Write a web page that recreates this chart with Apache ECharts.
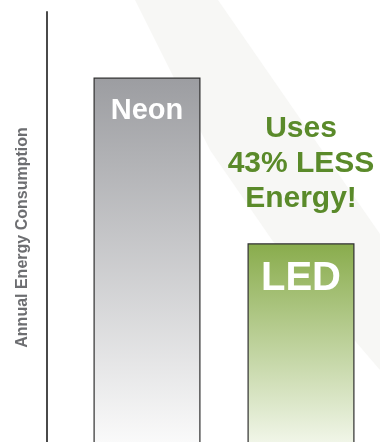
<!DOCTYPE html>
<html>
<head>
<meta charset="utf-8">
<script src="https://cdn.jsdelivr.net/npm/echarts@6/dist/echarts.min.js"></script>
<style>
    html, body { margin: 0; padding: 0; background: #fff; overflow: hidden; }
    /* 图比窗口高一点，底部被裁掉，柱子看起来延伸出画面 */
    #main { width: 380px; height: 463px; }
</style>
</head>
<body>
<div id="main"></div>
<script>
// 数据
var categories = ['Neon', 'LED'];
var energyUse = [100, 57];
var calloutLines = ['Uses', '43% LESS', 'Energy!'];
var axisTitle = 'Annual Energy Consumption';

var chart = echarts.init(document.getElementById('main'));

function fade(top, bottom) {
    return new echarts.graphic.LinearGradient(0, 0, 0, 1, [
        { offset: 0, color: top },
        { offset: 1, color: bottom }
    ]);
}

var option = {
    backgroundColor: '#ffffff',
    animation: false,
    // 背景的浅灰色斜条
    graphic: [{
        type: 'polygon',
        z: -10,
        silent: true,
        shape: {
            points: [[135, 0], [218, 0], [380, 234], [380, 370], [356, 342], [272, 240], [210, 150]]
        },
        style: { fill: '#f7f7f5' }
    }],
    grid: {
        left: 70,
        right: 2,
        top: 12,
        bottom: 0
    },
    xAxis: {
        type: 'category',
        data: categories,
        show: false
    },
    yAxis: {
        type: 'value',
        min: 0,
        max: 117,
        offset: 23,
        name: axisTitle,
        nameLocation: 'middle',
        nameGap: 16,
        nameTextStyle: {
            color: '#6d6e71',
            fontFamily: 'Liberation Sans',
            fontWeight: 'bold',
            fontSize: 16
        },
        axisLine: {
            show: true,
            lineStyle: { color: '#4a4a4a', width: 2 }
        },
        axisTick: { show: false },
        axisLabel: { show: false },
        splitLine: { show: false }
    },
    series: [
        {
            type: 'bar',
            barWidth: 107,
            data: [
                {
                    value: energyUse[0],
                    itemStyle: { color: fade('#9c9da1', '#ffffff') },
                    label: { fontSize: 29, distance: 19 }
                },
                {
                    value: energyUse[1],
                    itemStyle: { color: fade('#89ac4c', '#fbfdf8') },
                    label: { fontSize: 40, distance: 16 }
                }
            ],
            itemStyle: {
                borderColor: '#2f2f2f',
                borderWidth: 1.2
            },
            label: {
                show: true,
                position: 'insideTop',
                formatter: '{b}',
                color: '#ffffff',
                fontFamily: 'Liberation Sans',
                fontWeight: 'bold'
            }
        },
        {
            // 透明柱子，只用来放 LED 上方的文字
            type: 'bar',
            barWidth: 107,
            barGap: '-100%',
            silent: true,
            data: [
                { value: energyUse[0], label: { show: false } },
                { value: energyUse[1] }
            ],
            itemStyle: { color: 'rgba(0,0,0,0)' },
            label: {
                show: true,
                position: 'top',
                distance: 27,
                formatter: calloutLines.join('\n'),
                color: '#5a8a2a',
                fontFamily: 'Liberation Sans',
                fontWeight: 'bold',
                fontSize: 30,
                lineHeight: 35,
                align: 'center'
            }
        }
    ]
};

//渲染图表
if (option && typeof option === "object") {
    chart.setOption(option, true);
}
</script>
</body>
</html>
